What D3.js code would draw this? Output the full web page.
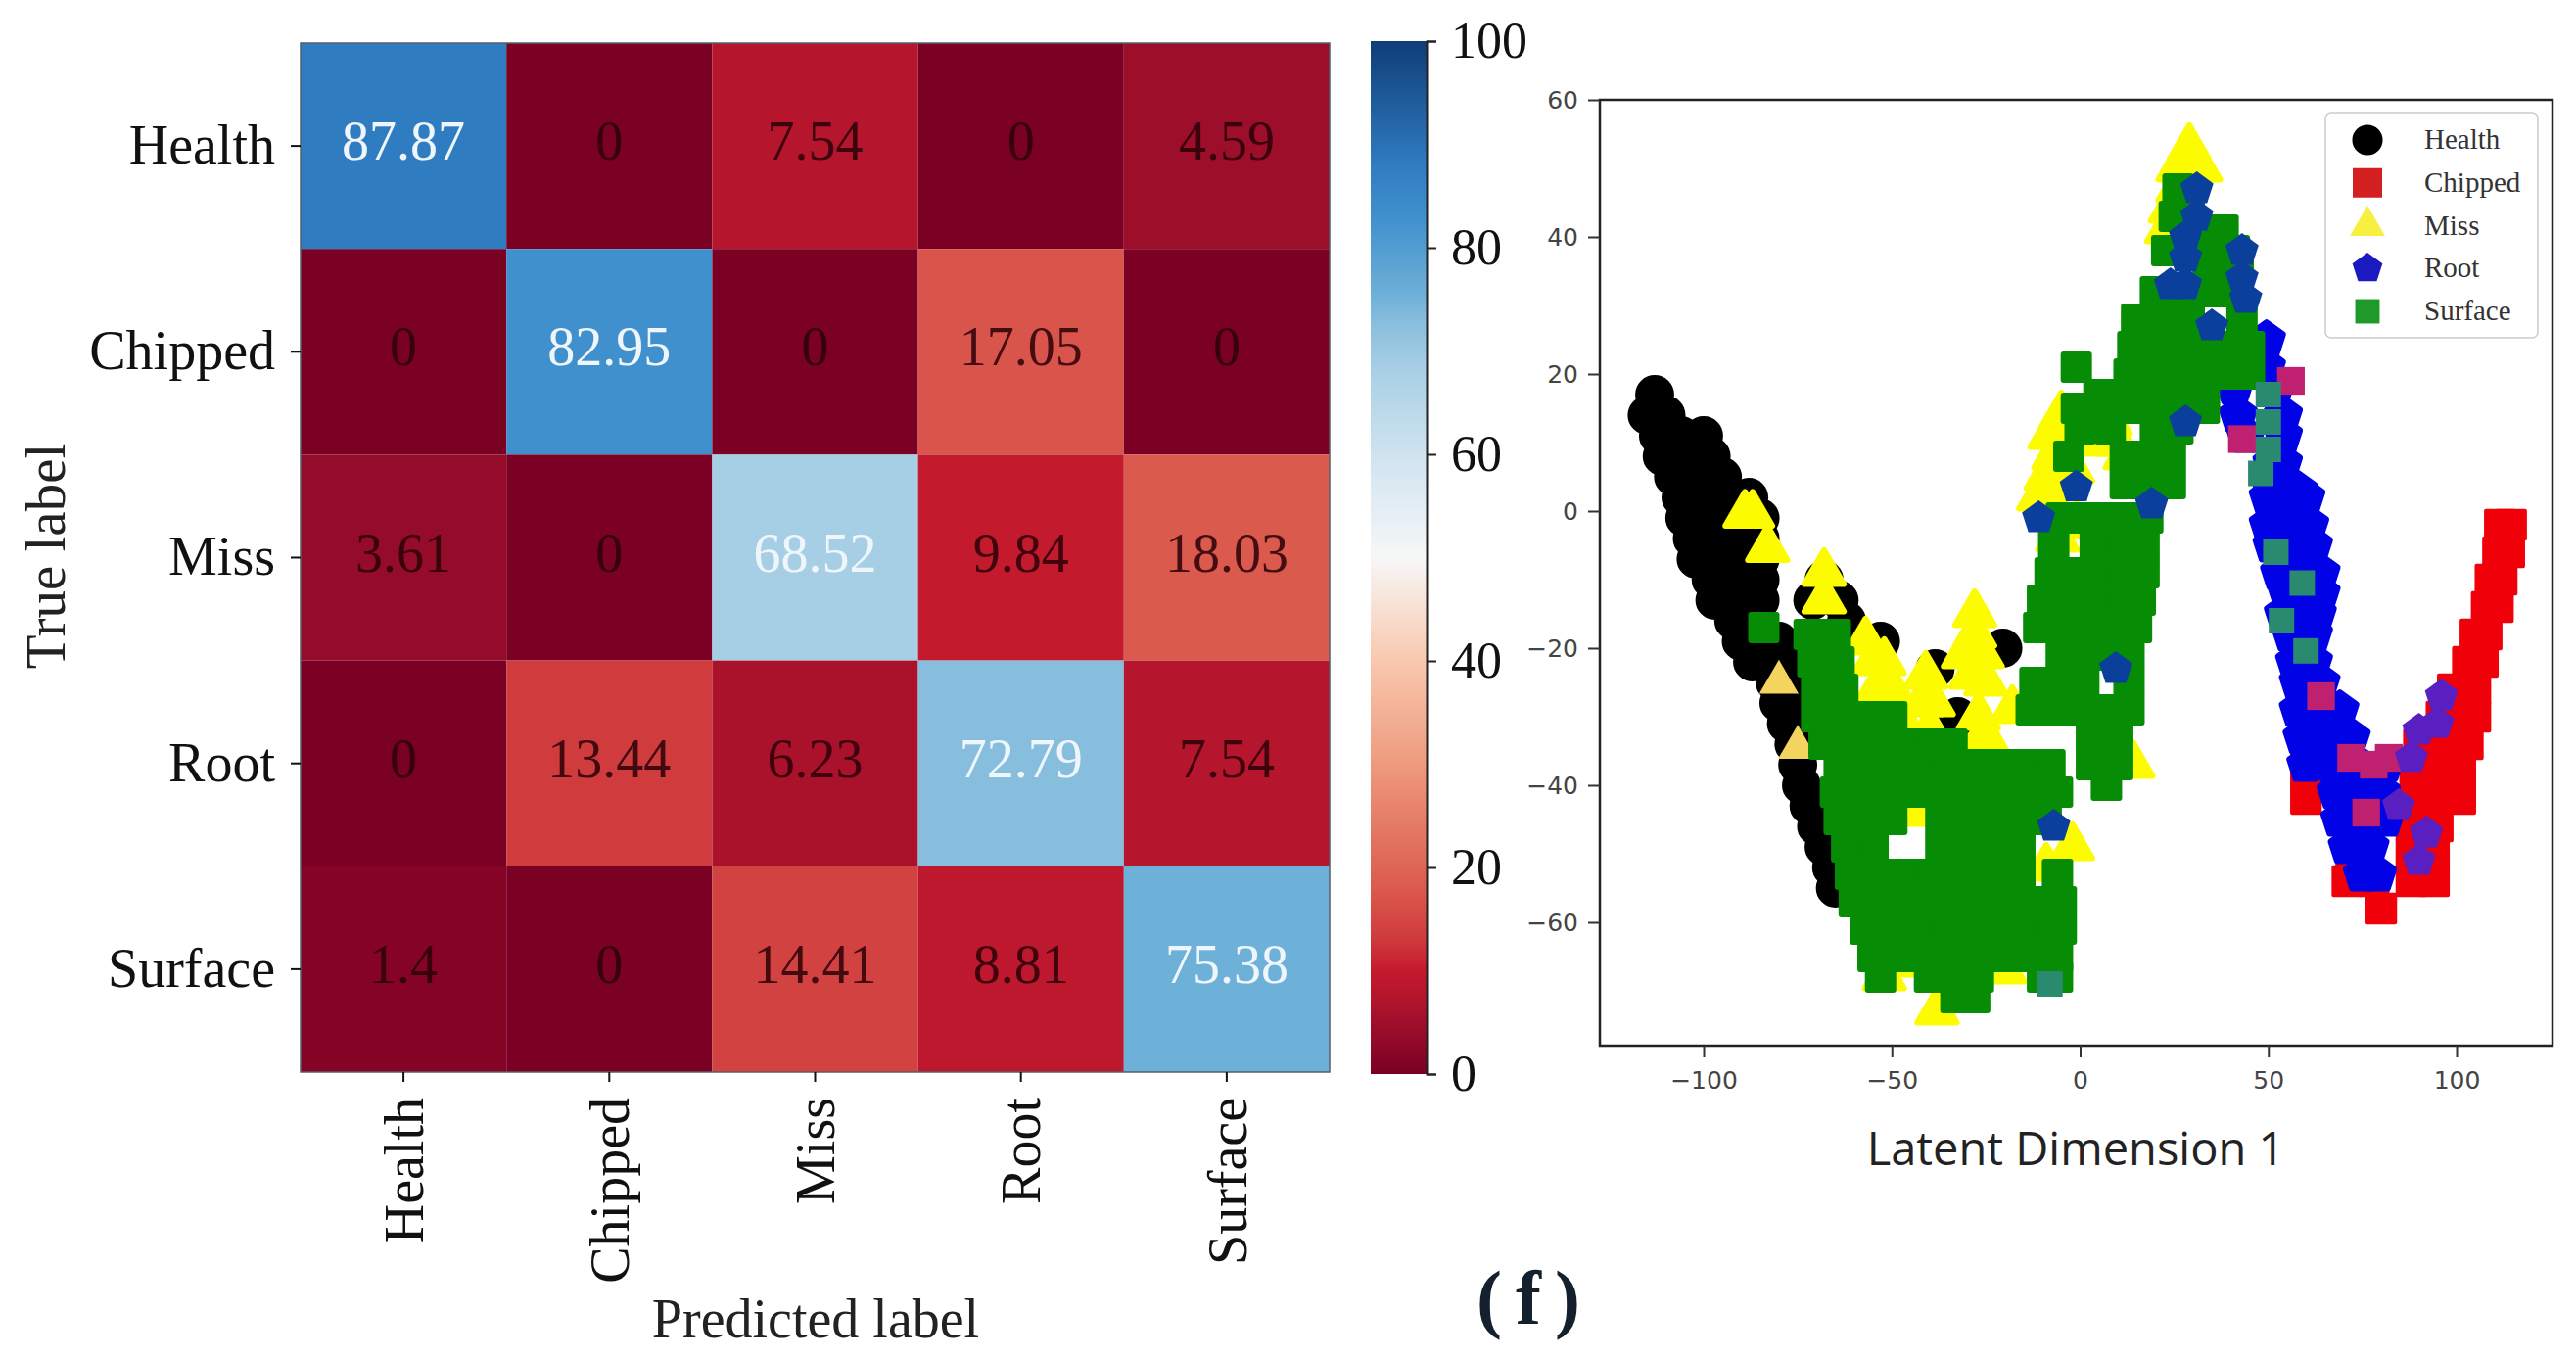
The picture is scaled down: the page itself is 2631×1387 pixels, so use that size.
<!DOCTYPE html>
<html>
<head>
<meta charset="utf-8">
<script src="https://cdn.jsdelivr.net/npm/d3@7"></script>
<style>
  body { margin: 0; background: #fff; }
  svg { display: block; }
  .serif text, text.serif { font-family: "Liberation Serif", serif; }
  .sans text { font-family: "DejaVu Sans", sans-serif; }
</style>
</head>
<body>
<script>
const classNames = ["Health", "Chipped", "Miss", "Root", "Surface"];

// confusion matrix, rows = true label
const confusion = [
    [87.87, 0, 7.54, 0, 4.59],
    [0, 82.95, 0, 17.05, 0],
    [3.61, 0, 68.52, 9.84, 18.03],
    [0, 13.44, 6.23, 72.79, 7.54],
    [1.4, 0, 14.41, 8.81, 75.38]
];
const colorTicks = [0, 20, 40, 60, 80, 100];
const xTicks = [-100, -50, 0, 50, 100];
const yTicks = [-60, -40, -20, 0, 20, 40, 60];

// colour bar of the picture, sampled by eye
const colorStops = [0, 4, 7.5, 10, 13, 18, 30, 40, 50, 60, 68.5, 73, 75.5, 83, 88, 100];
const colorValues = ["#7a0024", "#980c2b", "#b5152d", "#c41a2e", "#cf393c", "#db5a4e", "#ee9a7e", "#f8c8ae",
    "#f7f7f7", "#cfe3f0", "#a6cee4", "#86bdde", "#6db0d8", "#4090cd", "#2f7cc0", "#0f3d78"];

// scatter points, each row is [y, x, x, ...]
const healthRows = [
    [17, -113], [14, -115, -110], [11, -112, -106, -100], [8, -111, -105, -98],
    [5, -108, -102, -95], [2, -106, -100, -93, -88], [-1, -105, -98, -91, -85],
    [-4, -103, -96, -89, -85], [-7, -102, -95, -88, -85], [-10, -98, -91, -85, -68],
    [-13, -97, -91, -85, -71, -64], [-16, -92, -86, -62], [-19, -90, -84, -80, -53],
    [-22, -87, -81, -79], [-23, -38.5], [-20, -20.5], [-25, -81, -78], [-28, -80, -78],
    [-30, -32.5], [-31, -78, -76], [-34, -76], [-37, -75], [-40, -74], [-43, -72],
    [-46, -70], [-49, -68], [-52, -66], [-55, -65]
];
const chippedRows = [
    [-2, 111.5, 114.5], [-6, 111, 114], [-10, 109, 112], [-14, 108, 111],
    [-18, 108, 105], [-22, 107, 103], [-26, 105, 99], [-30, 105, 99, 96],
    [-34, 103, 96, 90, 60], [-38, 101, 94, 89, 60], [-42, 101, 94, 89, 60],
    [-46, 95, 88], [-50, 94, 88, 72], [-54, 94, 88, 71, 78], [-58, 80]
];
const missRows = [
    [53, 29], [50, 29, 26, 32], [47, 26], [44, 24], [41, 23],
    [14, -5], [13, 8], [11, -5, -8], [10, 5, 10], [8, -7, -4, 12], [6, -2], [5, -9, -6], [2, -11, -8],
    [-0.5, -87, -89], [-2, -1], [-4, -6], [-5.5, -83], [-9, -68], [-13, -68],
    [-15, -28], [-18, -28], [-19, -57], [-21, -31, -26], [-22, -55, -52], [-24, -41, -29],
    [-25, -25], [-26, -54, -50], [-28, -42, -39], [-29, -18], [-30, -48, -27], [-32, -40],
    [-34, -27, -24], [-37, 14], [-39, -34], [-44, -42], [-49, -2], [-52, -9],
    [-66, -44], [-67, -20], [-68, -52], [-73, -38]
];
const rootRows = [
    [25, 49.5], [21, 49.5], [18, 41, 52], [14, 42, 54], [11, 44, 54], [7, 51, 54],
    [3, 51, 55, 58], [2, 50, 56, 60], [-2, 50, 57, 61], [-5, 51, 58, 62], [-9, 53, 60, 64],
    [-12, 55, 61, 64], [-15, 54, 60, 63], [-18, 56, 62], [-22, 57, 62], [-25, 58, 64],
    [-29, 58, 65, 69], [-33, 59, 66, 72], [-37, 60, 67, 74, 81], [-41, 68, 74, 80],
    [-45, 69, 75, 81], [-49, 71, 77], [-53, 75, 79]
];
const surfaceRows = [
    [47, 26], [43, 25, 29], [41, 33, 38], [38, 23, 34, 41], [35, 34, 42], [32, 20, 26, 34, 40],
    [28, 15, 22, 29, 43], [24, 14, 21, 28, 35, 42, 45], [21, -1], [20, 13, 20, 27, 34, 41, 45],
    [17, 5, 12, 19, 26, 33], [15, -1, 5, 12, 19, 26, 33], [12, 0, 8, 20, 26], [8, -3, 12, 18, 24],
    [4, 12, 18, 24], [-1, -5, -1, 5, 12, 18], [-5, -7, 4, 11, 17], [-9, -8, -2, 4, 11, 17],
    [-13, -10, -3, 4, 11, 16], [-17, -11, -5, 2, 9, 15, -84], [-21, -5, 2, 9, 13], [-25, -12, -5, 1, 13],
    [-29, -13, -6, 1, 8, 13], [-33, 3, 10], [-37, 3, 10], [-40, 7],
    [-18, -72, -65], [-22, -71, -64], [-26, -70, -63], [-30, -70, -63, -56, -50],
    [-34, -68, -61, -54, -47, -40, -34], [-37, -64, -57, -50, -43, -36, -29, -22, -15, -8],
    [-41, -65, -58, -51, -44, -37, -30, -23, -16, -9, -6], [-45, -64, -57, -50, -37, -30, -23, -16, -9],
    [-49, -62, -55, -37, -30, -23, -16], [-53, -61, -54, -47, -40, -33, -26, -19, -16, -6],
    [-57, -60, -53, -46, -39, -32, -25, -18, -11, -5], [-61, -57, -50, -43, -36, -29, -22, -15, -8, -5],
    [-65, -55, -48, -41, -34, -27, -20, -13, -6], [-68, -53, -40, -34, -27, -10, -6], [-71, -33, -28]
];
// spots where the classes overlap and the colours mix in the picture
const missOnHealth = [[-80, -25], [-75, -34.5]];
const rootOnSurface = [
    [31, 47], [31, 43], [28, 40], [28, 37], [24, 33], [28, 33], [43, 38], [43, 34], [44, 31],
    [35, 27], [19, 1], [28, 13], [-1, 3.5], [-11, -1], [9.5, -23], [-7, -46]
];
const rootOnChipped = [[96, -27], [95, -31], [90, -32], [88, -36], [84.6, -43], [92, -47], [90, -51]];
const chippedOnRoot = [[76, -44], [72, -36], [78, -37], [82, -36], [64, -27], [56, 19], [43, 10.5]];
const surfaceOnRoot = [[50, 17], [50, 13], [50, 9], [48, 5.5], [52, -6], [59, -10.5], [53.5, -16], [60, -20.4], [-8, -69]];

const rowsToPoints = rows => rows.flatMap(([y, ...xs]) => xs.map(x => [x, y]));

const svg = d3.select("body").append("svg")
    .attr("width", 2631)
    .attr("height", 1387);

// ---- confusion matrix ----
const heatColor = d3.scaleLinear().domain(colorStops).range(colorValues);
const heatX = d3.scaleBand().domain(classNames).range([307, 1358]);
const heatY = d3.scaleBand().domain(classNames).range([44, 1095]);

const cells = svg.append("g").selectAll("g")
    .data(confusion.flatMap((row, i) => row.map((v, j) => ({ v, t: classNames[i], p: classNames[j] }))))
    .enter()
    .append("g");

cells.append("rect")
    .attr("x", d => heatX(d.p))
    .attr("y", d => heatY(d.t))
    .attr("width", heatX.bandwidth())
    .attr("height", heatY.bandwidth())
    .style("fill", d => heatColor(d.v));

cells.append("text")
    .attr("class", "serif")
    .attr("x", d => heatX(d.p) + heatX.bandwidth() / 2)
    .attr("y", d => heatY(d.t) + heatY.bandwidth() / 2 + 14)
    .attr("text-anchor", "middle")
    .style("font-size", "56px")
    .style("fill", d => d.v > 50 ? "#eef6fb" : "#2a0008")
    .style("fill-opacity", d => d.v > 50 ? 1 : 0.85)
    .text(d => d.v);

svg.append("rect")
    .attr("x", 307).attr("y", 44).attr("width", 1051).attr("height", 1051)
    .style("fill", "none")
    .style("stroke", "#55606a")
    .style("stroke-width", 1.5);

const heatLeft = svg.append("g")
    .attr("class", "serif")
    .attr("transform", "translate(307,0)")
    .call(d3.axisLeft(heatY).tickSize(10).tickPadding(16));
const heatBottom = svg.append("g")
    .attr("class", "serif")
    .attr("transform", "translate(0,1095)")
    .call(d3.axisBottom(heatX).tickSize(10));
[heatLeft, heatBottom].forEach(a => {
    a.select(".domain").remove();
    a.selectAll("line").style("stroke", "#111").style("stroke-width", 2);
    a.selectAll("text").style("font-size", "56px").style("fill", "#111");
});
heatBottom.selectAll("text")
    .attr("transform", "rotate(-90)")
    .attr("x", -26)
    .attr("y", 0)
    .attr("dy", "0.35em")
    .attr("text-anchor", "end");

svg.append("text")
    .attr("class", "serif")
    .attr("x", 833).attr("y", 1366)
    .attr("text-anchor", "middle")
    .style("font-size", "56px")
    .style("fill", "#222")
    .text("Predicted label");

svg.append("text")
    .attr("class", "serif")
    .attr("transform", "translate(66,568) rotate(-90)")
    .attr("text-anchor", "middle")
    .style("font-size", "57px")
    .style("fill", "#222")
    .text("True label");

// ---- colour bar ----
const barScale = d3.scaleLinear().domain([0, 100]).range([1097, 42]);
const gradient = svg.append("defs").append("linearGradient")
    .attr("id", "rdbu")
    .attr("x1", 0).attr("x2", 0).attr("y1", 1).attr("y2", 0);
gradient.selectAll("stop")
    .data(colorStops)
    .enter()
    .append("stop")
    .attr("offset", d => d + "%")
    .attr("stop-color", d => heatColor(d));

svg.append("rect")
    .attr("x", 1400).attr("y", 42).attr("width", 57).attr("height", 1055)
    .style("fill", "url(#rdbu)");

const barAxis = svg.append("g")
    .attr("class", "serif")
    .attr("transform", "translate(1457,0)")
    .call(d3.axisRight(barScale).tickValues(colorTicks).tickSize(10).tickPadding(15));
barAxis.select(".domain").style("stroke", "#222").style("stroke-width", 2);
barAxis.selectAll("line").style("stroke", "#222").style("stroke-width", 2);
barAxis.selectAll("text").style("font-size", "52px").style("fill", "#111");

// ---- latent space scatter ----
const x = d3.scaleLinear().domain([-100, 100]).range([1740, 2509]);
const y = d3.scaleLinear().domain([-60, 60]).range([942, 102]);

const pentagon = {
    draw(ctx, size) {
        const r = Math.sqrt(size / 2.378);
        for (let i = 0; i < 5; i++) {
            const a = i * 2 * Math.PI / 5 - Math.PI / 2;
            if (i === 0) ctx.moveTo(r * Math.cos(a), r * Math.sin(a));
            else ctx.lineTo(r * Math.cos(a), r * Math.sin(a));
        }
        ctx.closePath();
    }
};
const circlePath = d3.symbol(d3.symbolCircle, 900)();
const squarePath = d3.symbol(d3.symbolSquare, 800)();
const trianglePath = d3.symbol(d3.symbolTriangle, 700)();
const pentagonPath = d3.symbol(pentagon, 760)();
const greenPath = d3.symbol(d3.symbolSquare, 676)();

// the stroke rounds the marks off so that they merge into blobs as in the picture
function drawPoints(points, path, color, grow) {
    svg.append("g").selectAll("path")
        .data(points)
        .enter()
        .append("path")
        .attr("d", path)
        .attr("transform", d => `translate(${x(d[0])},${y(d[1])})`)
        .style("fill", color)
        .style("stroke", color)
        .style("stroke-width", grow)
        .style("stroke-linejoin", "round");
}

drawPoints(rowsToPoints(healthRows), circlePath, "#000", 6);
drawPoints(rowsToPoints(chippedRows), squarePath, "#f00008", 4);
drawPoints(rowsToPoints(missRows), trianglePath, "#fdfb00", 6);
drawPoints(missOnHealth, trianglePath, "#f3d45e", 0);
drawPoints(rowsToPoints(rootRows), pentagonPath, "#0202e6", 6);
drawPoints(chippedOnRoot, squarePath, "#c02070", 0);
drawPoints(rootOnChipped, pentagonPath, "#5a1fc0", 0);
drawPoints(rowsToPoints(surfaceRows), greenPath, "#078c05", 6);
drawPoints(rootOnSurface, pentagonPath, "#0b3f9c", 0);
drawPoints(surfaceOnRoot, greenPath, "#2a8a70", 0);

svg.append("rect")
    .attr("x", 1634).attr("y", 102).attr("width", 973).attr("height", 966)
    .style("fill", "none")
    .style("stroke", "#222")
    .style("stroke-width", 2.5);

const scatterBottom = svg.append("g")
    .attr("class", "sans")
    .attr("transform", "translate(0,1068)")
    .call(d3.axisBottom(x).tickValues(xTicks).tickSize(12).tickPadding(14));
const scatterLeft = svg.append("g")
    .attr("class", "sans")
    .attr("transform", "translate(1634,0)")
    .call(d3.axisLeft(y).tickValues(yTicks).tickSize(12).tickPadding(10));
[scatterBottom, scatterLeft].forEach(a => {
    a.select(".domain").remove();
    a.selectAll("line").style("stroke", "#333").style("stroke-width", 2);
    a.selectAll("text").style("font-size", "25px").style("fill", "#444");
});

svg.append("text")
    .attr("x", 2120).attr("y", 1190)
    .attr("text-anchor", "middle")
    .style("font-family", "'Open Sans', sans-serif")
    .style("font-size", "47px")
    .style("fill", "#222")
    .text("Latent Dimension 1");

// ---- legend ----
const legendY = d3.scalePoint().domain(classNames).range([143, 318]);
const legendMarks = [d3.symbol(d3.symbolCircle, 760)(), d3.symbol(d3.symbolSquare, 900)(), d3.symbol(d3.symbolTriangle, 560)(),
    d3.symbol(pentagon, 620)(), d3.symbol(d3.symbolSquare, 620)()];
const legendColors = ["#000", "#d42020", "#f8f040", "#1a1ac0", "#1f9a2a"];

svg.append("rect")
    .attr("x", 2375).attr("y", 115).attr("width", 217).attr("height", 230).attr("rx", 6)
    .style("fill", "#fff")
    .style("stroke", "#ccc")
    .style("stroke-width", 1.5);

const legendItems = svg.append("g").selectAll("g")
    .data(classNames)
    .enter()
    .append("g")
    .attr("transform", d => `translate(0,${legendY(d)})`);

legendItems.append("path")
    .attr("d", (d, i) => legendMarks[i])
    .attr("transform", "translate(2418,0)")
    .style("fill", (d, i) => legendColors[i]);

legendItems.append("text")
    .attr("class", "serif")
    .attr("x", 2476)
    .attr("y", 9)
    .style("font-size", "29px")
    .style("fill", "#333")
    .text(d => d);

// ---- panel letter ----
svg.append("text")
    .attr("class", "serif")
    .attr("x", 1568).attr("y", 1352)
    .attr("text-anchor", "middle")
    .style("font-size", "78px")
    .style("font-weight", "bold")
    .style("letter-spacing", "14px")
    .style("fill", "#14202e")
    .text("(f)");
</script>
</body>
</html>
